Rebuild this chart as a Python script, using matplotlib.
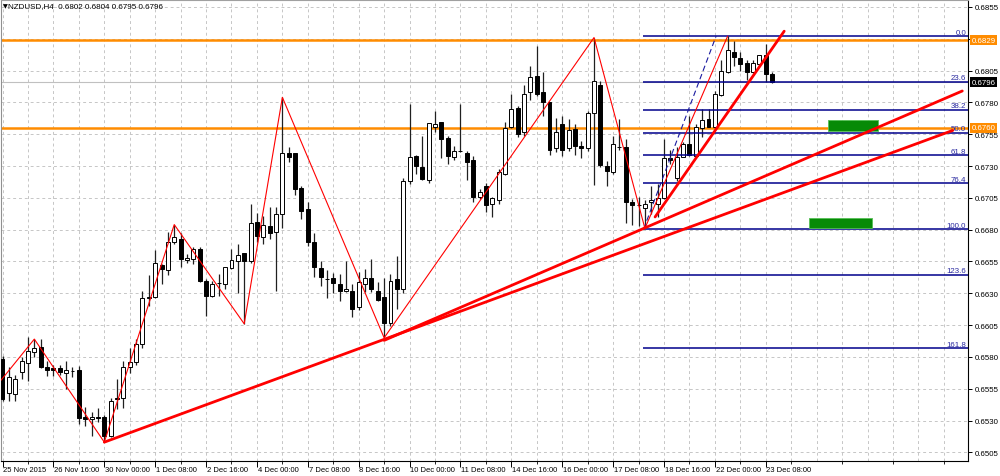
import matplotlib
matplotlib.use('Agg')
import matplotlib.pyplot as plt
from matplotlib.transforms import blended_transform_factory
import numpy as np

# ---------------- data ----------------
opens = [0.6578, 0.6552, 0.6551, 0.6568, 0.6575, 0.6584, 0.6588, 0.6572, 0.6571, 0.6571,
         0.6567, 0.6569, 0.6570, 0.6533, 0.6531, 0.6533, 0.6533, 0.6518, 0.6548, 0.6548,
         0.6572, 0.6576, 0.6590, 0.6626, 0.6627, 0.6652, 0.6648, 0.6670, 0.6673, 0.6656,
         0.6657, 0.6665, 0.6640, 0.6628, 0.6638, 0.6637, 0.6650, 0.6655, 0.6662, 0.6655,
         0.6686, 0.6674, 0.6683, 0.6678, 0.6692, 0.6740, 0.6740, 0.6713, 0.6696, 0.6670,
         0.6650, 0.6641, 0.6642, 0.6637, 0.6632, 0.6632, 0.6619, 0.6637, 0.6642, 0.6632,
         0.6627, 0.6607, 0.6641, 0.6633, 0.6718, 0.6738, 0.6729, 0.6719, 0.6761, 0.6765,
         0.6752, 0.6737, 0.6742, 0.6740, 0.6735, 0.6706, 0.6714, 0.6700, 0.6703, 0.6724,
         0.6761, 0.6776, 0.6757, 0.6788, 0.6801, 0.6788, 0.6780, 0.6744, 0.6763, 0.6744,
         0.6759, 0.6746, 0.6744, 0.6772, 0.6794, 0.6730, 0.6725, 0.6745, 0.6745, 0.6702,
         0.6699, 0.6697, 0.6702, 0.6700, 0.6705, 0.6736, 0.6721, 0.6737, 0.6747, 0.6738,
         0.6760, 0.6767, 0.6761, 0.6786, 0.6804, 0.6820, 0.6815, 0.6811, 0.6804, 0.6810,
         0.6817, 0.6802]
highs = [0.6581, 0.6572, 0.6566, 0.6580, 0.6596, 0.6594, 0.6594, 0.6577, 0.6574, 0.6574,
         0.6577, 0.6572, 0.6573, 0.6541, 0.6537, 0.6540, 0.6534, 0.6548, 0.6563, 0.6577,
         0.6587, 0.6594, 0.6632, 0.6644, 0.6664, 0.6653, 0.6678, 0.6684, 0.6677, 0.6661,
         0.6666, 0.6666, 0.6641, 0.6640, 0.6645, 0.6651, 0.6665, 0.6669, 0.6662, 0.6700,
         0.6693, 0.6691, 0.6698, 0.6698, 0.6784, 0.6745, 0.6740, 0.6714, 0.6702, 0.6677,
         0.6655, 0.6648, 0.6646, 0.6645, 0.6655, 0.6637, 0.6647, 0.6649, 0.6657, 0.6639,
         0.6642, 0.6645, 0.6659, 0.6721, 0.6779, 0.6739, 0.6754, 0.6764, 0.6773, 0.6765,
         0.6754, 0.6746, 0.6779, 0.6742, 0.6738, 0.6712, 0.6717, 0.6706, 0.6728, 0.6765,
         0.6787, 0.6777, 0.6794, 0.6809, 0.6824, 0.6804, 0.6780, 0.6768, 0.6769, 0.6767,
         0.6763, 0.6750, 0.6773, 0.6831, 0.6797, 0.6734, 0.6754, 0.6767, 0.6751, 0.6704,
         0.6706, 0.6703, 0.6714, 0.6716, 0.6751, 0.6743, 0.6745, 0.6749, 0.6769, 0.6763,
         0.6775, 0.6775, 0.6789, 0.6813, 0.6832, 0.6828, 0.6820, 0.6813, 0.6813, 0.6817,
         0.6826, 0.6804]
lows = [0.6545, 0.6545, 0.6545, 0.6563, 0.6561, 0.6580, 0.6571, 0.6565, 0.6565, 0.6566,
        0.6555, 0.6564, 0.6527, 0.6526, 0.6518, 0.6529, 0.6513, 0.6517, 0.6539, 0.6540,
        0.6567, 0.6574, 0.6587, 0.6620, 0.6626, 0.6637, 0.6644, 0.6669, 0.6651, 0.6654,
        0.6653, 0.6639, 0.6612, 0.6627, 0.6628, 0.6633, 0.6649, 0.6630, 0.6606, 0.6654,
        0.6670, 0.6669, 0.6673, 0.6632, 0.6681, 0.6733, 0.6707, 0.6688, 0.6667, 0.6643,
        0.6636, 0.6626, 0.6630, 0.6624, 0.6631, 0.6611, 0.6617, 0.6631, 0.6631, 0.6624,
        0.6595, 0.6604, 0.6618, 0.6630, 0.6716, 0.6724, 0.6719, 0.6717, 0.6757, 0.6736,
        0.6732, 0.6735, 0.6741, 0.6719, 0.6702, 0.6704, 0.6694, 0.6690, 0.6700, 0.6723,
        0.6760, 0.6753, 0.6754, 0.6782, 0.6785, 0.6769, 0.6739, 0.6741, 0.6738, 0.6742,
        0.6739, 0.6736, 0.6742, 0.6715, 0.6729, 0.6714, 0.6724, 0.6743, 0.6685, 0.6684,
        0.6683, 0.6681, 0.6692, 0.6690, 0.6704, 0.6732, 0.6718, 0.6737, 0.6738, 0.6737,
        0.6753, 0.6761, 0.6759, 0.6785, 0.6803, 0.6809, 0.6805, 0.6798, 0.6803, 0.6809,
        0.6796, 0.6795]
closes = [0.6547, 0.6564, 0.6563, 0.6577, 0.6585, 0.6587, 0.6572, 0.6570, 0.6570, 0.6568,
          0.6570, 0.6569, 0.6532, 0.6531, 0.6533, 0.6532, 0.6518, 0.6545, 0.6547, 0.6572,
          0.6576, 0.6590, 0.6626, 0.6627, 0.6654, 0.6649, 0.6670, 0.6674, 0.6657, 0.6658,
          0.6665, 0.6640, 0.6628, 0.6637, 0.6638, 0.6651, 0.6656, 0.6660, 0.6655, 0.6685,
          0.6675, 0.6684, 0.6677, 0.6692, 0.6740, 0.6737, 0.6712, 0.6695, 0.6670, 0.6651,
          0.6643, 0.6641, 0.6638, 0.6632, 0.6633, 0.6618, 0.6639, 0.6642, 0.6633, 0.6625,
          0.6607, 0.6640, 0.6633, 0.6718, 0.6737, 0.6730, 0.6720, 0.6764, 0.6763, 0.6751,
          0.6738, 0.6742, 0.6742, 0.6733, 0.6706, 0.6710, 0.6699, 0.6705, 0.6725, 0.6760,
          0.6775, 0.6755, 0.6787, 0.6800, 0.6787, 0.6780, 0.6743, 0.6757, 0.6743, 0.6758,
          0.6746, 0.6744, 0.6772, 0.6797, 0.6731, 0.6726, 0.6747, 0.6745, 0.6702, 0.6699,
          0.6699, 0.6700, 0.6703, 0.6705, 0.6736, 0.6735, 0.6737, 0.6747, 0.6739, 0.6761,
          0.6766, 0.6761, 0.6787, 0.6805, 0.6821, 0.6816, 0.6810, 0.6804, 0.6811, 0.6817,
          0.6802, 0.6796]

time_labels = ['25 Nov 2015', '26 Nov 16:00', '30 Nov 00:00', '1 Dec 08:00', '2 Dec 16:00',
               '4 Dec 00:00', '7 Dec 08:00', '8 Dec 16:00', '10 Dec 00:00', '11 Dec 08:00',
               '14 Dec 16:00', '16 Dec 00:00', '17 Dec 08:00', '18 Dec 16:00', '22 Dec 00:00',
               '23 Dec 08:00']
label_step = 8

price_ticks = [0.6855, 0.6830, 0.6805, 0.6780, 0.6755, 0.6730, 0.6705, 0.6680,
               0.6655, 0.6630, 0.6605, 0.6580, 0.6555, 0.6530, 0.6505]
hidden_tick_labels = [0.6830]   # covered by the 0.6829 level box in the reference

# ZigZag pivots (bar index, price)
zz_idx = [-1, 5, 16, 27, 38, 44, 60, 93, 101, 114]
zz_price = [0.6557, 0.6594, 0.6513, 0.6684, 0.6606, 0.6784, 0.6595, 0.6831, 0.6681, 0.6832]

# trend lines (bar index, price)
trend_lines = [
    ((16.0, 0.6513), (149.4, 0.6758)),
    ((60.0, 0.6593), (150.9, 0.6789)),
    ((102.6, 0.6690), (122.9, 0.6836)),
]

# horizontal levels
orange_levels = [0.6829, 0.6760]
bid_price = 0.6796

# fibonacci
fib_low = (100.8, 0.66805)
fib_high = (112.2, 0.68322)
fib_ratios = [0.0, 23.6, 38.2, 50.0, 61.8, 76.4, 100.0, 123.6, 161.8]

# green rectangles (x0, x1, y0, y1)
boxes = [(129.8, 137.7, 0.67575, 0.67662), (126.8, 136.7, 0.66810, 0.66890)]

# ---------------- figure ----------------
W, H = 1000, 477
fig = plt.figure(figsize=(W / 100, H / 100), dpi=100)
fig.patch.set_facecolor('white')
ax = fig.add_axes([1 / W, (H - 462) / H, 967 / W, 461 / H])
ax.set_facecolor('white')

x_left = -0.24
x_right = 151.8
ax.set_xlim(x_left, x_right)
ax.set_ylim(0.64982, 0.68605)

FONT = 'Liberation Sans'
fs_y = 5.7
fs_x = 5.5

# grid
grid_kw = dict(color='#c6c6c6', lw=0.7, ls=(0, (3, 3)), zorder=0)
for p in price_ticks:
    ax.axhline(p, **grid_kw)
for gx in np.arange(0, x_right, 4):
    ax.axvline(gx, **grid_kw)

# bid line
ax.axhline(bid_price, color='#c0c0c0', lw=0.8, zorder=1)

# orange levels
for lv in orange_levels:
    ax.axhline(lv, color='#ff8c00', lw=1.8, zorder=2)

# candles
n = len(opens)
idx = np.arange(n)
o = np.array(opens); c = np.array(closes); h = np.array(highs); l = np.array(lows)
ax.vlines(idx, l, h, color='#202020', lw=0.9, zorder=3)
up = c >= o
bodies_bottom = np.minimum(o, c)
bodies_h = np.abs(c - o)
ax.bar(idx[up], bodies_h[up], bottom=bodies_bottom[up], width=0.62,
       facecolor='white', edgecolor='black', lw=0.7, zorder=4)
ax.bar(idx[~up], bodies_h[~up], bottom=bodies_bottom[~up], width=0.62,
       facecolor='black', edgecolor='black', lw=0.7, zorder=4)

# fibonacci levels
rng = fib_high[1] - fib_low[1]
for r in fib_ratios:
    lvl = fib_high[1] - r / 100.0 * rng
    ax.plot([fib_low[0] - 0.1, x_right], [lvl, lvl], color='#00008b', lw=1.1, zorder=5,
            solid_capstyle='butt')
    ax.text(x_right - 0.3, lvl + 0.00004, f'{r:.1f}', ha='right', va='bottom',
            fontsize=5.7, family=FONT, color='#2a2aa0', zorder=6)
ax.plot([fib_low[0], fib_high[0]], [fib_low[1], fib_high[1]], color='#1a1aa0',
        lw=0.8, ls=(0, (5, 3)), zorder=5)

# green boxes
for (x0, x1, y0, y1) in boxes:
    ax.fill_between([x0, x1], y0, y1, facecolor='#078a07', edgecolor='#55c055', lw=0.6, zorder=5)

# zigzag
ax.plot(zz_idx, zz_price, color='#ff0000', lw=0.8, zorder=6)

# trend lines
for (a, b) in trend_lines:
    ax.plot([a[0], b[0]], [a[1], b[1]], color='#ff0000', lw=2.0, zorder=7,
            solid_capstyle='round')

# axes styling
for s in ax.spines.values():
    s.set_color('black')
    s.set_linewidth(0.8)
ax.spines['left'].set_color('#909090')
ax.spines['top'].set_color('#a0a0a0')
ax.yaxis.tick_right()
ax.set_yticks(price_ticks)
ax.set_yticklabels(['' if p in hidden_tick_labels else f'{p:.4f}' for p in price_ticks])
ax.tick_params(axis='y', direction='out', length=3, width=0.7, pad=2, labelsize=fs_y,
               colors='black')
for t in ax.get_yticklabels():
    t.set_fontfamily(FONT)

tick_pos = [i * label_step for i in range(len(time_labels))]
ax.set_xticks(tick_pos)
ax.set_xticklabels([])
ax.set_xticks(np.arange(4, x_right, 8), minor=True)
ax.tick_params(axis='x', which='major', direction='out', length=4, width=0.7)
ax.tick_params(axis='x', which='minor', direction='out', length=2, width=0.6)
trans = blended_transform_factory(ax.transData, ax.transAxes)
for pos, lab in zip(tick_pos, time_labels):
    ax.annotate(lab, xy=(pos, 0), xycoords=trans, xytext=(0.5, -3.5), textcoords='offset points',
                ha='left', va='top', fontsize=fs_x, family=FONT, color='black', annotation_clip=False)

# axis price boxes
ytrans = blended_transform_factory(ax.transAxes, ax.transData)
for lv in orange_levels:
    ax.annotate(f'{lv:.4f}', xy=(1, lv), xycoords=ytrans, xytext=(2.6, 0), textcoords='offset points',
                ha='left', va='center', fontsize=fs_y, family=FONT, color='white', zorder=10,
                annotation_clip=False,
                bbox=dict(boxstyle='square,pad=0.15', facecolor='#ff8c00', edgecolor='none'))
ax.annotate(f'{bid_price:.4f}', xy=(1, bid_price), xycoords=ytrans, xytext=(2.6, 0),
            textcoords='offset points', ha='left', va='center', fontsize=fs_y, family=FONT,
            color='white', zorder=10, annotation_clip=False,
            bbox=dict(boxstyle='square,pad=0.15', facecolor='black', edgecolor='none'))

# header
fig.text(2.5 / W, 1 - 7 / H, '\u25BC', fontsize=4.5, family='DejaVu Sans', va='center', ha='left')
fig.text(8 / W, 1 - 7 / H, f'NZDUSD,H4  {opens[-1]:.4f} {highs[-1]:.4f} {lows[-1]:.4f} {closes[-1]:.4f}',
         fontsize=5.8, family=FONT, va='center', ha='left')

fig.savefig('out.png', dpi=100, facecolor='white')
